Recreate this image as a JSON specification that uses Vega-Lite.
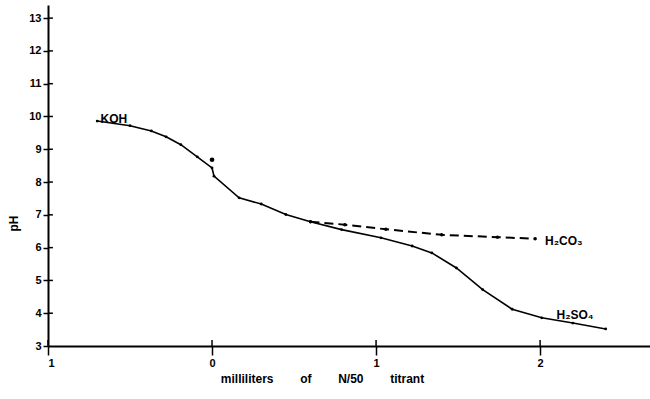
{
  "$schema": "https://vega.github.io/schema/vega-lite/v6.json",
  "width": 602,
  "height": 341,
  "autosize": {"type": "none"},
  "padding": {"left": 48, "top": 5, "right": 0, "bottom": 53},
  "background": "white",
  "config": {
    "view": {"stroke": null},
    "font": "Liberation Sans",
    "axis": {"grid": false, "domainColor": "black", "domainWidth": 2, "tickColor": "black", "tickWidth": 1.5, "labelColor": "black", "titleColor": "black", "labelFont": "Liberation Sans", "titleFont": "Liberation Sans", "labelFontWeight": "bold", "titleFontWeight": "bold", "labelFontSize": 11, "titleFontSize": 12, "labelOverlap": false},
    "axisY": {"labelOverlap": false}
  },
  "datasets": {
    "curves": [
      {"x": -0.70, "pH": 9.86},
      {"x": -0.50, "pH": 9.72},
      {"x": -0.37, "pH": 9.56},
      {"x": -0.28, "pH": 9.38},
      {"x": -0.19, "pH": 9.14},
      {"x": -0.09, "pH": 8.77},
      {"x": 0.0, "pH": 8.43},
      {"x": 0.012, "pH": 8.18},
      {"x": 0.165, "pH": 7.52},
      {"x": 0.30, "pH": 7.33},
      {"x": 0.45, "pH": 7.01},
      {"x": 0.60, "pH": 6.79},
      {"x": 0.79, "pH": 6.55},
      {"x": 1.03, "pH": 6.30},
      {"x": 1.22, "pH": 6.05},
      {"x": 1.34, "pH": 5.84},
      {"x": 1.49, "pH": 5.38},
      {"x": 1.65, "pH": 4.72},
      {"x": 1.83, "pH": 4.12},
      {"x": 2.01, "pH": 3.86},
      {"x": 2.20, "pH": 3.70},
      {"x": 2.40, "pH": 3.52}
    ],
    "carbonic": [
      {"x": 0.60, "pH": 6.79},
      {"x": 0.81, "pH": 6.70},
      {"x": 1.06, "pH": 6.56},
      {"x": 1.40, "pH": 6.39},
      {"x": 1.74, "pH": 6.32},
      {"x": 1.97, "pH": 6.27}
    ],
    "dot": [{"x": 0.0, "pH": 8.68}],
    "labels": [
      {"x": -0.68, "pH": 9.92, "text": "KOH"},
      {"x": 2.03, "pH": 6.2, "text": "H₂CO₃"},
      {"x": 2.10, "pH": 3.95, "text": "H₂SO₄"}
    ],
    "xticks": [{"x": -1, "pH": 3, "pH2": 3.18}, {"x": 0, "pH": 3, "pH2": 3.18}, {"x": 1, "pH": 3, "pH2": 3.18}, {"x": 2, "pH": 3, "pH2": 3.18}],
    "yticks": [
      {"pH": 4, "x": -1, "x2": -0.97}, {"pH": 5, "x": -1, "x2": -0.97}, {"pH": 6, "x": -1, "x2": -0.97},
      {"pH": 7, "x": -1, "x2": -0.97}, {"pH": 8, "x": -1, "x2": -0.97}, {"pH": 9, "x": -1, "x2": -0.97},
      {"pH": 10, "x": -1, "x2": -0.97}, {"pH": 11, "x": -1, "x2": -0.97}, {"pH": 12, "x": -1, "x2": -0.97},
      {"pH": 13, "x": -1, "x2": -0.97}
    ]
  },
  "encoding": {
    "x": {"field": "x", "type": "quantitative", "scale": {"domain": [-1, 2.67], "nice": false, "zero": false},
      "axis": {"values": [-1, 0, 1, 2], "labelExpr": "abs(datum.value)", "tickSize": 9, "labelPadding": 2, "labelOverlap": false, "title": "milliliters\u00a0\u00a0\u00a0\u00a0\u00a0\u00a0\u00a0\u00a0of\u00a0\u00a0\u00a0\u00a0\u00a0\u00a0\u00a0\u00a0N/50\u00a0\u00a0\u00a0\u00a0\u00a0\u00a0\u00a0\u00a0titrant", "titlePadding": 5, "titleX": 274}},
    "y": {"field": "pH", "type": "quantitative", "scale": {"domain": [3, 13.4], "nice": false, "zero": false},
      "axis": {"values": [3, 4, 5, 6, 7, 8, 9, 10, 11, 12, 13], "tickSize": 5, "labelPadding": 2, "labelOverlap": false, "title": "pH", "titlePadding": 8, "titleY": 218}}
  },
  "layer": [
    {
      "data": {"name": "curves"},
      "mark": {"type": "line", "color": "black", "strokeWidth": 1.6, "point": {"filled": true, "color": "black", "size": 8}},
      "encoding": {
        "order": {"field": "x", "type": "quantitative"}
      }
    },
    {
      "data": {"name": "carbonic"},
      "mark": {"type": "line", "color": "black", "strokeWidth": 2, "strokeDash": [9, 5], "point": {"filled": true, "color": "black", "size": 12}},
      "encoding": {}
    },
    {
      "data": {"name": "dot"},
      "mark": {"type": "point", "filled": true, "color": "black", "size": 22, "opacity": 1}
    },
    {
      "data": {"name": "labels"},
      "mark": {"type": "text", "align": "left", "baseline": "middle", "fontSize": 12, "fontWeight": "bold", "color": "black", "font": "Liberation Sans"},
      "encoding": {
        "text": {"field": "text"}
      }
    },
    {
      "data": {"name": "xticks"},
      "mark": {"type": "rule", "color": "black", "strokeWidth": 1.5},
      "encoding": {
        "y2": {"field": "pH2"}
      }
    },
    {
      "data": {"name": "yticks"},
      "mark": {"type": "rule", "color": "black", "strokeWidth": 1.5},
      "encoding": {
        "x2": {"field": "x2"}
      }
    }
  ]
}
